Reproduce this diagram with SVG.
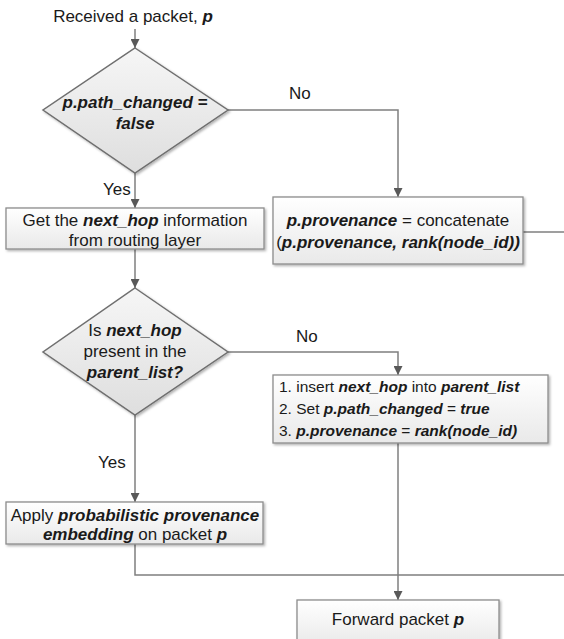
<svg xmlns="http://www.w3.org/2000/svg" width="564" height="639" viewBox="0 0 564 639">
<defs>
<linearGradient id="gBox" x1="0" y1="0" x2="0" y2="1">
<stop offset="0" stop-color="#ffffff"/>
<stop offset="1" stop-color="#e9e9e9"/>
</linearGradient>
<linearGradient id="gDia" x1="0" y1="0" x2="0" y2="1">
<stop offset="0" stop-color="#f6f6f6"/>
<stop offset="1" stop-color="#dedede"/>
</linearGradient>
<filter id="sh" x="-10%" y="-10%" width="120%" height="130%">
<feDropShadow dx="1.5" dy="1.5" stdDeviation="1" flood-color="#000" flood-opacity="0.3"/>
</filter>
<marker id="arr" viewBox="0 0 10 10" refX="10" refY="5" markerWidth="9" markerHeight="9" markerUnits="userSpaceOnUse" orient="auto">
<path d="M0,0 L10,5 L0,10 z" fill="#595959"/>
</marker>
</defs>
<style>
.box{fill:url(#gBox);stroke:#8c8c8c;stroke-width:1.3;filter:url(#sh)}
.dia{fill:url(#gDia);stroke:#6f6f6f;stroke-width:1.5;filter:url(#sh)}
.con{fill:none;stroke:#7f7f7f;stroke-width:1.5}
text{font-family:"Liberation Sans",Arial,sans-serif;font-size:17px;fill:#1a1a1a}
.c{text-anchor:middle}
.bi{font-weight:bold;font-style:italic}
.sm{font-size:15.5px}
</style>
<g id="connectors">
<line class="con" x1="135" y1="29" x2="135" y2="48" marker-end="url(#arr)"/>
<line class="con" x1="135" y1="173" x2="135" y2="208" marker-end="url(#arr)"/>
<polyline class="con" points="228,110 398,110 398,197" marker-end="url(#arr)"/>
<line class="con" x1="523" y1="232" x2="564" y2="232"/>
<line class="con" x1="135" y1="249" x2="135" y2="288" marker-end="url(#arr)"/>
<polyline class="con" points="228,352 398,352 398,375" marker-end="url(#arr)"/>
<line class="con" x1="135" y1="415" x2="135" y2="502" marker-end="url(#arr)"/>
<line class="con" x1="398" y1="443" x2="398" y2="600" marker-end="url(#arr)"/>
<polyline class="con" points="135,544 135,575 564,575"/>
<text x="103" y="195">Yes</text>
<text x="289" y="99">No</text>
<text x="98" y="468">Yes</text>
<text x="296" y="342">No</text>
</g>
<g id="start">
<text class="c" x="133" y="22">Received a packet, <tspan class="bi">p</tspan></text>
</g>
<g id="dec1">
<polygon class="dia" points="135,48 228,110 135,173 43,110"/>
<text class="c bi" x="135" y="108">p.path_changed =</text>
<text class="c bi" x="135" y="129">false</text>
</g>
<g id="box_nexthop">
<rect class="box" x="6" y="208" width="258" height="41"/>
<text class="c" x="135" y="225.5">Get the <tspan class="bi">next_hop</tspan> information</text>
<text class="c" x="135" y="246">from routing layer</text>
</g>
<g id="box_concat">
<rect class="box" x="273" y="197" width="250" height="67"/>
<text class="c" x="398" y="226"><tspan class="bi">p.provenance</tspan> = concatenate</text>
<text class="c" x="398" y="248">(<tspan class="bi">p.provenance, rank(node_id))</tspan></text>
</g>
<g id="dec2">
<polygon class="dia" points="135,288 228,352 135,415 43,352"/>
<text class="c" x="135" y="336">Is <tspan class="bi">next_hop</tspan></text>
<text class="c" x="135" y="357">present in the</text>
<text class="c bi" x="135" y="378">parent_list?</text>
</g>
<g id="box_insert">
<rect class="box" x="273" y="375" width="275" height="68"/>
<text class="sm" x="279" y="392">1. insert <tspan class="bi">next_hop</tspan> into <tspan class="bi">parent_list</tspan></text>
<text class="sm" x="279" y="414">2. Set <tspan class="bi">p.path_changed</tspan> = <tspan class="bi">true</tspan></text>
<text class="sm" x="279" y="436">3. <tspan class="bi">p.provenance</tspan> = <tspan class="bi">rank(node_id)</tspan></text>
</g>
<g id="box_apply">
<rect class="box" x="6" y="502" width="257" height="42"/>
<text class="c" x="135" y="521" font-size="16.5">Apply <tspan class="bi">probabilistic provenance</tspan></text>
<text class="c" x="135" y="540" font-size="16.5"><tspan class="bi">embedding</tspan> on packet <tspan class="bi">p</tspan></text>
</g>
<g id="box_forward">
<rect class="box" x="297" y="600" width="202" height="46"/>
<text class="c" x="398" y="625">Forward packet <tspan class="bi">p</tspan></text>
</g>
</svg>
